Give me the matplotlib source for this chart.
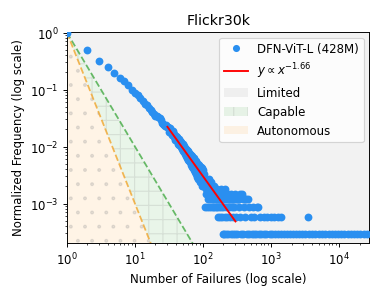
import numpy as np
import matplotlib
matplotlib.use("Agg")
import matplotlib.pyplot as plt
from matplotlib.patches import Patch
from matplotlib.lines import Line2D

# ---------------- data ----------------
# counts of items for failure numbers 1..100
head_counts = [3380, 1656, 1061, 831, 662, 534, 473, 400, 328, 290,
               277, 240, 210, 186, 180, 162, 149, 135, 128, 118,
               115, 112, 106, 98, 88, 84, 81, 78, 80, 76,
               74, 62, 72, 58, 55, 64, 50, 57, 45, 52,
               42, 49, 38, 46, 36, 43, 33, 41, 31, 37,
               28, 35, 27, 32, 25, 31, 23, 29, 21, 28,
               20, 26, 19, 25, 18, 24, 16, 23, 15, 22,
               14, 20, 13, 21, 12, 18, 13, 19, 11, 17,
               10, 16, 11, 17, 9, 15, 10, 16, 8, 14,
               9, 15, 8, 13, 9, 14, 7, 12, 7, 13]
head_failures = list(range(1, 101))

mid_failures = [101, 102, 103, 104, 105, 106, 108, 109, 110, 111, 112, 113, 114, 116, 117,
                118, 119, 120, 121, 122, 123, 125, 126, 127, 128, 129, 130, 132, 134, 136,
                138, 140, 142, 144, 146, 149, 151, 153, 156, 159, 161, 164, 167, 170, 173,
                176, 179, 183, 186, 190, 194, 198, 203, 207, 212, 218, 224, 230, 236, 242,
                248, 255, 262, 270, 278, 287, 296, 305, 315, 325, 340, 355, 370, 390, 410,
                430, 465]
mid_counts = [9, 11, 8, 10, 7, 9, 8, 6, 9, 7, 5, 8, 6, 7, 5,
              8, 4, 6, 9, 7, 5, 6, 4, 7, 5, 8, 5, 6, 4, 7,
              5, 6, 4, 5, 7, 4, 6, 4, 5, 4, 6, 4, 5, 4, 4,
              5, 4, 6, 4, 4, 5, 4, 4, 6, 4, 5, 4, 4, 5, 4,
              4, 4, 5, 4, 4, 4, 5, 4, 4, 4, 4, 5, 5, 4, 4,
              4, 4]

# failure numbers observed exactly three, two and one time(s)
three_failures = [107, 115, 124, 131, 139, 147, 155, 163, 174, 184, 200, 220, 245, 265,
                  290, 335, 400, 480, 545, 620, 646]
two_failures = [166, 177, 188, 210, 226, 250, 272, 310, 350, 420, 500, 570, 680, 790,
                880, 1000, 1120, 1250, 1390, 3500]
one_failures = [196, 205, 215, 232, 258, 280, 300, 320, 360, 385, 440, 481, 520, 560,
                600, 660, 720, 780, 850, 950, 1040, 1150, 1270, 1400, 1550, 1700, 1900,
                2100, 2350, 2600, 2900, 3200, 3600, 4000, 4500, 5000, 5600, 6200, 7000,
                7800, 8700, 9700, 10800, 12000, 13400, 15000, 16500, 18500, 20500,
                23000, 26000]

fit_exponent = -1.66
fit_coef = 6.3
fit_range = [30, 300]

series_label = "DFN-ViT-L (428M)"
title = "Flickr30k"

# ---------------- assemble ----------------
failures = np.array(head_failures + mid_failures + three_failures + two_failures + one_failures, float)
counts = np.array(head_counts + mid_counts + [3] * len(three_failures)
                  + [2] * len(two_failures) + [1] * len(one_failures), float)
freq = counts / head_counts[0]

fig = plt.figure(figsize=(4.5, 3.5), dpi=85)
ax = fig.add_axes([0.175, 0.182, 0.791, 0.710])
ax.set_xscale("log")
ax.set_yscale("log")

ymin, ymax = 2.05e-4, 1.04
xmin, xmax = 1.0, 2.8e4
xx = np.geomspace(xmin, xmax, 400)
green = xx ** -2.0
orange = xx ** -3.0

blue = "#2a8ff0"
lim_face = (0.83, 0.83, 0.83, 0.3)
cap_face = (0.17, 0.63, 0.17, 0.1)
cap_edge = (0.55, 0.55, 0.55, 0.2)
aut_face = (1.0, 0.6, 0.05, 0.1)
aut_edge = (0.6, 0.6, 0.6, 0.25)

ax.fill_between(xx, np.maximum(green, ymin), ymax, color=lim_face, lw=0)
ax.fill_between(xx, np.maximum(orange, ymin), np.maximum(green, ymin),
                facecolor=cap_face, edgecolor=cap_edge, hatch="+", lw=0)
ax.fill_between(xx, ymin, np.maximum(orange, ymin),
                facecolor=aut_face, edgecolor=aut_edge, hatch=".", lw=0)
ax.plot(xx, green, ls="--", color="#2ca02c", alpha=0.7, lw=1.5)
ax.plot(xx, orange, ls="--", color="#f0a020", alpha=0.75, lw=1.5)

ax.scatter(failures, freq, s=44, color=blue, lw=0, zorder=3)
fx = np.geomspace(fit_range[0], fit_range[1], 50)
ax.plot(fx, fit_coef * fx ** fit_exponent, color="red", lw=1.6, zorder=4)

ax.set_xlim(xmin, xmax)
ax.set_ylim(ymin, ymax)
ax.set_title(title, fontsize=12)
ax.set_xlabel("Number of Failures (log scale)", fontsize=10)
ax.set_ylabel("Normalized Frequency (log scale)", fontsize=10)

handles = [
    Line2D([], [], marker="o", ls="none", color=blue, markersize=6, markeredgewidth=0),
    Line2D([], [], color="red", lw=1.6),
    Patch(facecolor=lim_face, lw=0),
    Patch(facecolor=cap_face, edgecolor=cap_edge, hatch="+", lw=0),
    Patch(facecolor=aut_face, lw=0),
]
labels = [series_label, r"$y \propto x^{%.2f}$" % fit_exponent, "Limited", "Capable", "Autonomous"]
ax.legend(handles, labels, loc="upper right", fontsize=10)

fig.savefig("out.png", dpi=85)
